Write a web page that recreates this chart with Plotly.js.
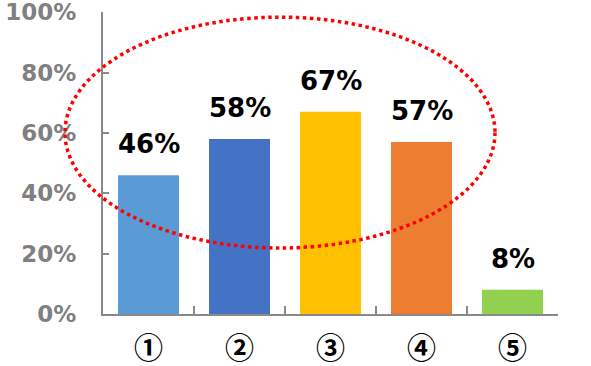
<!DOCTYPE html>
<html>
<head>
<meta charset="utf-8">
<script src="https://cdn.plot.ly/plotly-3.0.1.min.js"></script>
<style>html,body{margin:0;padding:0;background:#fff;}#chart{width:591px;height:366px;}</style>
</head>
<body>
<div id="chart"></div>
<script>
var categories = ["①", "②", "③", "④", "⑤"];
var values = [0.46, 0.58, 0.67, 0.57, 0.08];
var labels = ["46%", "58%", "67%", "57%", "8%"];
var colors = ["#5B9BD5", "#4472C4", "#FFC000", "#ED7D31", "#92D050"];
var yTickVals = [0, 0.2, 0.4, 0.6, 0.8, 1.0];
var yTickText = ["0%", "20%", "40%", "60%", "80%", "100%"];

var trace = {
  type: 'bar',
  x: categories,
  y: values,
  marker: {color: colors, line: {width: 0}},
  width: 0.67,
  hoverinfo: 'none'
};

var annotations = categories.map(function(c, i) {
  return {
    x: c, y: values[i], xref: 'x', yref: 'y',
    text: labels[i], showarrow: false,
    yanchor: 'bottom', yshift: 14,
    font: {family: 'DejaVu Sans', size: 26, color: '#000000', weight: 'bold'}
  };
});

var layout = {
  width: 591, height: 366,
  margin: {l: 103, r: 33, t: 12, b: 52},
  paper_bgcolor: '#ffffff', plot_bgcolor: '#ffffff',
  showlegend: false,
  xaxis: {
    type: 'category',
    range: [-0.5, 4.5],
    showline: true, linecolor: '#898989', linewidth: 2,
    ticks: 'inside', tickson: 'boundaries', ticklen: 8, tickcolor: '#898989', tickwidth: 2,
    showgrid: false, zeroline: false,
    tickfont: {family: 'Noto Sans CJK JP', size: 29, color: '#000000', weight: 'bold'},
    ticklabelstandoff: 8
  },
  yaxis: {
    range: [0, 1.0005],
    tickvals: yTickVals, ticktext: yTickText,
    showline: true, linecolor: '#898989', linewidth: 2,
    ticks: 'inside', ticklen: 6, tickcolor: '#898989', tickwidth: 2,
    showgrid: false, zeroline: false,
    tickfont: {family: 'DejaVu Sans', size: 23, color: '#808080', weight: 'bold'},
    ticklabelstandoff: 20,
    ticklabeloverflow: 'allow'
  },
  annotations: annotations,
  shapes: [{
    type: 'circle', xref: 'paper', yref: 'paper',
    x0: -0.0835, x1: 0.8615, y0: 0.2185, y1: 0.983,
    line: {color: '#FF0000', width: 3.5, dash: 'dot'},
    fillcolor: 'rgba(0,0,0,0)',
    layer: 'above'
  }]
};

Plotly.newPlot('chart', [trace], layout, {displayModeBar: false, staticPlot: true});
</script>
</body>
</html>
